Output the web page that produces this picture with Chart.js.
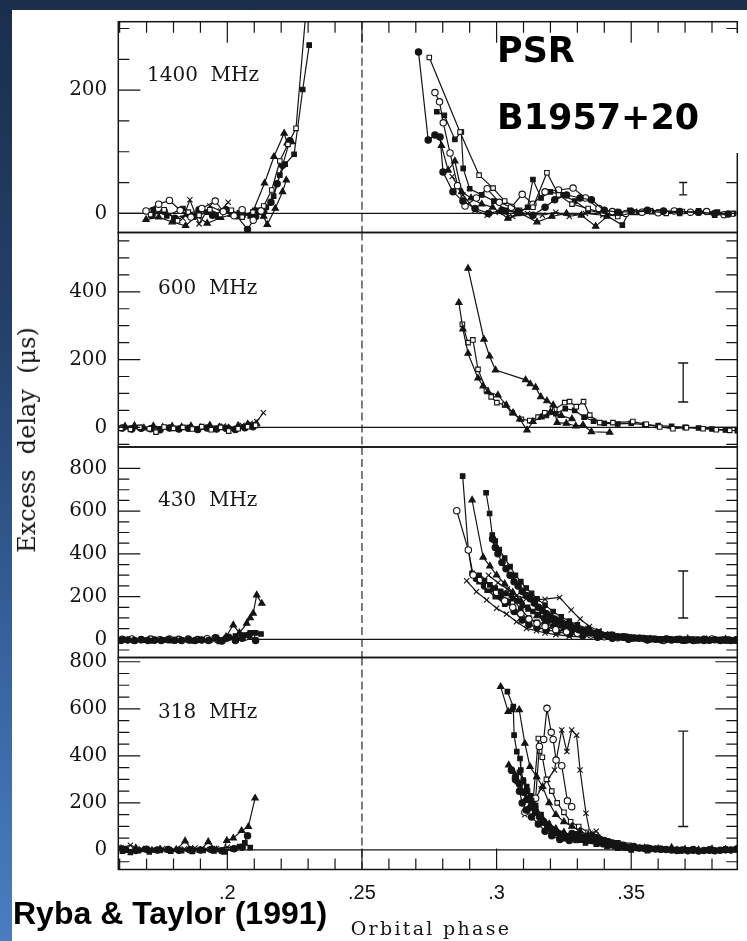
<!DOCTYPE html>
<html><head><meta charset="utf-8">
<script src="https://cdn.jsdelivr.net/npm/chart.js@4/dist/chart.umd.min.js"></script>
<style>
html,body{margin:0;padding:0;}
body{width:747px;height:941px;position:relative;overflow:hidden;
 background:linear-gradient(to bottom,#1b2e4c 0%,#24406a 35%,#3a68a6 75%,#4a7dc0 100%);}
#sheet{position:absolute;left:12px;top:10px;right:0;bottom:0;background:#fff;}
canvas{position:absolute;left:0;}
.t{position:absolute;white-space:pre;color:#161616;z-index:5;}
.lab{font-family:"DejaVu Serif";font-size:20px;line-height:20px;}
.big{font-family:"DejaVu Sans";font-weight:bold;font-size:35px;line-height:35px;color:#000;}
#cite{font-family:"Liberation Sans";font-weight:bold;font-size:32px;line-height:32px;color:#000;left:13px;top:897px;}
#ylab{font-family:"DejaVu Serif";font-size:24px;line-height:24px;left:27px;top:440px;transform:translate(-50%,-50%) rotate(-90deg);}
#xlab{font-family:"DejaVu Serif";font-size:19px;line-height:19px;letter-spacing:2.3px;left:431px;top:928px;transform:translate(-50%,-50%);}
#mask{position:absolute;left:640px;top:33px;width:107px;height:120px;background:#fff;z-index:4;}
</style></head><body>
<div id="sheet"></div>
<canvas id="c0"></canvas><canvas id="c1"></canvas><canvas id="c2"></canvas><canvas id="c3"></canvas>
<div id="mask"></div>
<div class="t lab" style="left:147px;top:64px">1400  MHz</div>
<div class="t lab" style="left:158px;top:277px">600  MHz</div>
<div class="t lab" style="left:158px;top:489px">430  MHz</div>
<div class="t lab" style="left:158px;top:701px">318  MHz</div>
<div class="t big" style="left:497px;top:33px">PSR</div>
<div class="t big" style="left:497px;top:100px">B1957+20</div>
<div class="t" id="cite">Ryba &amp; Taylor (1991)</div>
<div class="t" id="ylab">Excess  delay  (μs)</div>
<div class="t" id="xlab">Orbital phase</div>
<script>
// ---------------- DATA ----------------
const panelNames = ['1400 MHz', '600 MHz', '430 MHz', '318 MHz'];
const phaseMin = 0.1595, phaseMax = 0.3894;
const eclipsePhase = 0.25;
const xTickValues = [0.2, 0.25, 0.3, 0.35];
const xTickLabels = ['.2', '.25', '.3', '.35'];
const xMinorTicks = [0.16,0.17,0.18,0.19,0.2,0.21,0.22,0.23,0.24,0.25,0.26,0.27,0.28,0.29,0.3,0.31,0.32,0.33,0.34,0.35,0.36,0.37,0.38];
const yMinVals = [-31, -58, -85, -83];
const yMaxVals = [311, 575, 900, 818];
const yLabelValues = [[0,200],[0,200,400],[0,200,400,600,800],[0,200,400,600,800]];
const yLabelTexts = [['0','200'],['0','200','400'],['0','200','400','600','800'],['0','200','400','600','800']];
const yMinorTicks = [
 [0,50,100,150,200,250,300],
 [-50,0,50,100,150,200,250,300,350,400,450,500,550],
 [-50,0,50,100,150,200,250,300,350,400,450,500,550,600,650,700,750,800],
 [-50,0,50,100,150,200,250,300,350,400,450,500,550,600,650,700,750,800]
];
const errPhase = 0.3693;
const errLow = [30, 75, 100, 100];
const errHigh = [50, 190, 320, 505];

// 1400 MHz
const f1400_in_ring = [[0.1698,4],[0.1745,15],[0.1785,21],[0.1825,5],[0.1865,-6],[0.1905,8],[0.1955,20],[0.1985,3],[0.2025,-4],[0.2055,6],[0.2096,-11],[0.2125,4]];
const f1400_in_sqo = [[0.1715,-2],[0.1765,6],[0.1815,-12],[0.1855,2],[0.1895,-3],[0.1935,6],[0.1975,-2],[0.2015,5],[0.2055,-6],[0.2095,2],[0.2135,12],[0.2165,38],[0.2195,85],[0.2225,112],[0.2255,138],[0.229,318]];
const f1400_in_sq = [[0.1725,6],[0.1775,-4],[0.1835,8],[0.1875,-6],[0.1925,2],[0.1965,-5],[0.2005,4],[0.2045,1],[0.2085,-4],[0.2115,5],[0.2145,10],[0.2172,28],[0.2195,62],[0.2215,80],[0.2248,96],[0.228,201],[0.2304,273]];
const f1400_in_tri = [[0.1698,-10],[0.1745,-6],[0.1795,-14],[0.1845,-20],[0.1885,-4],[0.1925,-16],[0.1975,-7],[0.2015,-2],[0.2055,-3],[0.2095,3],[0.2138,49],[0.2173,92],[0.2211,130],[0.2222,114],[0.2239,116]];
const f1400_in_tri2 = [[0.2105,4],[0.2135,-5],[0.2148,-18],[0.2178,8],[0.2205,35],[0.2219,54]];
const f1400_in_dot = [[0.172,-3],[0.1765,4],[0.1805,-8],[0.1855,-1],[0.1895,6],[0.1945,-3],[0.1995,6],[0.2035,-4],[0.2075,-26],[0.2105,-5],[0.2135,3],[0.2162,18],[0.2185,48],[0.2205,78],[0.2232,118]];
const f1400_in_x = [[0.1835,-8],[0.1861,22],[0.1895,-17],[0.1935,12],[0.1975,4],[0.2003,18]];
const f1400_eg_dot = [[0.271,262],[0.2746,119],[0.2771,127],[0.279,124],[0.2801,67],[0.2838,35],[0.2875,20],[0.292,8],[0.297,0],[0.302,5],[0.308,3],[0.3135,-3],[0.318,10],[0.3216,22],[0.326,30],[0.331,25],[0.3352,22],[0.34,5],[0.345,2],[0.35,3],[0.356,5],[0.362,4],[0.368,3],[0.375,2],[0.381,0],[0.386,-1]];
const f1400_eg_sqo = [[0.275,253],[0.2864,132],[0.2935,62],[0.2987,41],[0.303,20],[0.3085,5],[0.3135,10],[0.3187,66],[0.323,30],[0.328,15],[0.334,8],[0.3395,0],[0.345,-5],[0.351,2],[0.357,4],[0.363,0],[0.369,3],[0.375,1],[0.381,-3],[0.3875,-1]];
const f1400_eg_ring = [[0.2771,196],[0.2788,181],[0.2802,147],[0.2827,98],[0.2855,45],[0.2883,12],[0.2925,25],[0.2965,40],[0.301,18],[0.3055,10],[0.3095,31],[0.3135,15],[0.318,35],[0.323,38],[0.3284,41],[0.333,25],[0.338,8],[0.343,3],[0.348,0],[0.354,2],[0.36,1],[0.366,4],[0.372,2],[0.378,3],[0.3845,-2]];
const f1400_eg_sq = [[0.2778,165],[0.2806,159],[0.2845,120],[0.2869,132],[0.2876,73],[0.29,40],[0.2945,30],[0.299,20],[0.3035,5],[0.308,0],[0.3115,10],[0.3135,55],[0.3165,25],[0.32,35],[0.3245,30],[0.329,20],[0.334,5],[0.3395,0],[0.3467,-19],[0.3495,5],[0.355,3],[0.362,2],[0.368,0],[0.375,4],[0.382,2],[0.388,0]];
const f1400_eg_tri = [[0.2795,110],[0.282,70],[0.2845,85],[0.287,35],[0.2905,25],[0.2945,15],[0.2985,10],[0.3042,-8],[0.309,0],[0.315,-14],[0.3205,-5],[0.326,0],[0.3315,-3],[0.3368,-21],[0.341,-5],[0.346,0],[0.352,1],[0.358,2]];
const f1400_eg_x = [[0.2835,60],[0.2875,30],[0.292,5],[0.2965,-3],[0.301,2],[0.306,-5],[0.3115,0],[0.317,-3],[0.322,2],[0.327,-5],[0.333,0],[0.3395,-3],[0.345,0]];

// 600 MHz
const f600_in_sqo = [[0.1605,-3],[0.164,-6],[0.1675,0],[0.171,-4],[0.1735,-14],[0.1765,1],[0.18,-3],[0.1835,0],[0.187,-5],[0.1905,2],[0.194,-7],[0.1975,0],[0.2005,-11],[0.204,-4],[0.2075,2],[0.2105,6]];
const f600_in_tri = [[0.162,3],[0.1655,5],[0.169,-2],[0.1725,4],[0.176,0],[0.1795,3],[0.183,1],[0.1865,4],[0.19,-1],[0.1935,6],[0.197,1],[0.2005,-2],[0.204,5],[0.2075,9],[0.2109,10]];
const f600_in_x = [[0.1985,4],[0.202,-3],[0.2055,6],[0.2085,12],[0.2109,17],[0.2134,43]];
const f600_in_dot = [[0.161,-2],[0.1645,-5],[0.168,-3],[0.1715,-4],[0.175,-7],[0.1785,-2],[0.182,-5],[0.1855,-3],[0.189,-6],[0.1925,-2],[0.196,-5],[0.1995,-3],[0.203,-6],[0.2065,-1],[0.2095,2]];
const f600_eg_triA = [[0.2894,469],[0.2953,260],[0.2974,210],[0.2996,169],[0.3108,140],[0.3125,128],[0.3145,118],[0.3164,90],[0.3187,78],[0.321,66],[0.3225,14],[0.3259,12],[0.3294,4],[0.3321,7],[0.3352,-13],[0.342,-15]];
const f600_eg_triB = [[0.286,368],[0.2875,290],[0.2894,218],[0.2931,145],[0.295,122],[0.2968,105],[0.3005,95],[0.3036,66],[0.3061,43],[0.3086,24],[0.3113,-8],[0.3135,17],[0.3165,30],[0.32,45],[0.324,35],[0.328,25]];
const f600_eg_sqo = [[0.2873,304],[0.2894,250],[0.2912,258],[0.2931,171],[0.2962,110],[0.298,90],[0.3001,73],[0.303,66],[0.3058,43],[0.3092,24],[0.3123,20],[0.3154,30],[0.3179,43],[0.3216,53],[0.3253,73],[0.3271,76],[0.3296,61],[0.3323,76],[0.3346,36],[0.3383,14],[0.3432,14],[0.3506,17],[0.3556,9],[0.3606,1],[0.3655,-4],[0.3705,-1],[0.3767,-4],[0.3816,-7],[0.3866,-9]];
const f600_eg_sq = [[0.3185,35],[0.322,40],[0.3255,55],[0.329,50],[0.3325,30],[0.336,18],[0.34,12],[0.345,10],[0.35,12],[0.355,8],[0.36,5],[0.365,3],[0.37,0],[0.375,-2],[0.38,-5],[0.385,-8],[0.3894,-10]];

// 430 MHz
const f430_in_dot = [[0.1605,-5],[0.163,-3],[0.1655,-6],[0.168,-2],[0.1705,-5],[0.173,-3],[0.1755,-6],[0.178,-2],[0.1805,-4],[0.183,-5],[0.1855,-2],[0.188,-6],[0.1905,-3],[0.193,-5],[0.1955,8],[0.198,-8],[0.2005,10],[0.203,-5],[0.2055,5],[0.208,20],[0.2105,-5]];
const f430_in_sq = [[0.162,-2],[0.1655,-8],[0.169,-4],[0.1725,-7],[0.176,-3],[0.1795,-6],[0.183,-3],[0.1865,-7],[0.19,-2],[0.1935,-4],[0.197,-10],[0.2,5],[0.203,15],[0.206,20],[0.2085,30],[0.2105,30],[0.2125,25]];
const f430_in_tri = [[0.1965,3],[0.1995,12],[0.2022,67],[0.2045,30],[0.2072,75],[0.2085,100],[0.2096,122],[0.2109,207],[0.2128,168]];
const f430_in_ring = [[0.161,0],[0.1645,2],[0.168,-1],[0.1715,1],[0.175,-2],[0.1785,1],[0.182,0],[0.1855,2],[0.189,-1],[0.1925,3],[0.196,0],[0.1995,4],[0.203,2],[0.2065,10],[0.209,18]];
const f430_eg_ring = [[0.2852,602],[0.2895,418],[0.2913,301],[0.294,280],[0.297,250],[0.3,220],[0.303,180],[0.306,150],[0.309,120],[0.312,95],[0.315,75],[0.318,60],[0.322,45],[0.326,35],[0.33,28],[0.335,20],[0.34,12],[0.345,8],[0.35,5],[0.356,2],[0.362,-5],[0.368,0],[0.374,-3],[0.38,2],[0.386,-2]];
const f430_eg_sq = [[0.2874,764],[0.2895,418],[0.2909,309],[0.2935,270],[0.2965,230],[0.2995,200],[0.303,165],[0.306,190],[0.309,140],[0.312,100],[0.315,80],[0.3185,70],[0.322,60],[0.326,45],[0.3305,40],[0.334,35],[0.338,25],[0.342,22],[0.347,15],[0.352,8],[0.358,5],[0.364,2],[0.37,0],[0.376,-4],[0.382,-2],[0.3885,-6]];
const f430_eg_tri = [[0.2909,652],[0.295,384],[0.2975,343],[0.3,300],[0.303,260],[0.306,220],[0.309,180],[0.312,140],[0.315,110],[0.318,85],[0.321,65],[0.325,50],[0.329,38],[0.334,25],[0.339,15],[0.344,10],[0.35,5],[0.357,0],[0.364,-3],[0.371,2],[0.378,-2],[0.385,0]];
const f430_eg_sq2 = [[0.2961,686],[0.2974,589],[0.2984,488],[0.2995,460],[0.301,420],[0.303,380],[0.305,340],[0.307,300],[0.309,270],[0.311,240],[0.313,215],[0.315,190],[0.318,160],[0.321,130],[0.324,105],[0.327,85],[0.33,68],[0.334,50],[0.338,35],[0.343,22],[0.348,14],[0.354,8],[0.36,3],[0.366,0],[0.372,-2],[0.379,-5],[0.386,-8]];
const f430_eg_x = [[0.2889,274],[0.2925,223],[0.2963,184],[0.3,145],[0.3037,118],[0.3074,82],[0.3111,51],[0.3148,40],[0.318,30],[0.322,22],[0.327,15],[0.332,10]];
const f430_eg_dot = [[0.2925,285],[0.2955,250],[0.298,235],[0.3015,200],[0.304,175],[0.3065,130],[0.3095,90],[0.312,70],[0.315,55],[0.3185,45],[0.3225,35],[0.327,25],[0.332,18],[0.3375,10],[0.343,5],[0.349,0],[0.356,-3],[0.363,2],[0.37,-4],[0.377,0],[0.384,-3],[0.389,-2]];
const f430_eg_x2 = [[0.297,300],[0.3005,265],[0.304,235],[0.3075,205],[0.311,190],[0.3145,186],[0.318,188],[0.3234,196],[0.3277,137],[0.331,95],[0.3345,60],[0.338,40],[0.342,25]];
const f430_eg_dot2 = [[0.2985,470],[0.2995,430],[0.3005,400],[0.302,360],[0.3035,330],[0.305,300],[0.3065,270],[0.308,250],[0.3095,225],[0.311,205],[0.3125,190],[0.314,170],[0.3155,150],[0.317,135],[0.3185,120],[0.32,105],[0.3215,95],[0.323,85],[0.3245,75],[0.326,68],[0.3275,60],[0.329,52],[0.3305,45],[0.332,40],[0.3335,35],[0.335,30],[0.337,25],[0.339,20],[0.341,18],[0.343,15],[0.345,12],[0.347,10],[0.349,8],[0.351,6],[0.353,5],[0.355,3],[0.357,2],[0.359,0],[0.361,-2],[0.363,0],[0.365,-3],[0.367,-1],[0.369,-4],[0.371,-2],[0.373,-5],[0.375,-3],[0.377,-6],[0.379,-4],[0.381,-2],[0.383,-5],[0.385,-3],[0.387,-6],[0.389,-4]];
const f430_eg_sq3 = [[0.2935,300],[0.2955,275],[0.2975,255],[0.2995,240],[0.3015,225],[0.3035,215],[0.3055,205],[0.3075,180],[0.3095,160],[0.3115,150],[0.3135,130],[0.3155,115],[0.3175,100],[0.3195,90],[0.3215,80],[0.3235,70],[0.3255,62],[0.3275,55],[0.3295,48],[0.3315,40],[0.3335,34],[0.3355,28],[0.3375,22],[0.34,18],[0.3425,14],[0.345,10],[0.3475,7],[0.35,5],[0.3525,3],[0.355,1],[0.3575,0],[0.36,-2],[0.3625,1],[0.365,-3],[0.3675,0],[0.37,-2],[0.3725,1],[0.375,-3],[0.3775,0],[0.38,-4],[0.3825,-1],[0.385,-3],[0.3875,-5]];

// 318 MHz
const f318_in_tri = [[0.1605,5],[0.163,-3],[0.166,8],[0.169,0],[0.172,-2],[0.175,3],[0.178,-1],[0.181,2],[0.1843,38],[0.187,0],[0.19,-2],[0.1929,35],[0.196,0],[0.1985,-5],[0.1998,40],[0.2022,50],[0.2053,82],[0.2078,99],[0.2103,220]];
const f318_in_sq = [[0.161,-5],[0.164,-10],[0.167,-3],[0.171,-8],[0.175,-2],[0.179,-5],[0.183,-3],[0.187,-6],[0.191,-2],[0.195,-4],[0.199,-8],[0.202,5],[0.2045,15],[0.2065,30],[0.2085,10]];
const f318_in_x = [[0.1605,10],[0.164,20],[0.168,5],[0.172,0],[0.176,6],[0.18,2],[0.184,4],[0.188,8],[0.192,3],[0.196,6],[0.2,12],[0.203,8]];
const f318_in_dot = [[0.162,2],[0.166,-2],[0.17,3],[0.174,0],[0.178,2],[0.182,-1],[0.186,1],[0.19,0],[0.194,2],[0.198,-3],[0.2025,5],[0.2055,12],[0.2075,60]];
const f318_eg_triA = [[0.3015,694],[0.3043,588],[0.3056,596],[0.3084,596],[0.3105,453],[0.3124,354],[0.3149,311],[0.3171,269],[0.3195,200],[0.322,150],[0.325,120],[0.328,100],[0.331,80],[0.334,65],[0.338,45],[0.342,30],[0.346,20],[0.35,12],[0.355,8],[0.36,5],[0.365,10],[0.37,3],[0.375,0],[0.38,4],[0.385,2],[0.389,3]];
const f318_eg_sq = [[0.304,673],[0.3062,609],[0.3065,488],[0.3075,418],[0.3087,389],[0.309,340],[0.3099,297],[0.3112,269],[0.3125,230],[0.3145,190],[0.3165,150],[0.319,110],[0.3215,85],[0.324,65],[0.3265,50],[0.3295,40],[0.333,30],[0.337,25],[0.341,15],[0.345,8],[0.35,0],[0.356,-3],[0.362,2],[0.368,-4],[0.374,0],[0.38,-3],[0.386,-1]];
const f318_eg_triB = [[0.3045,361],[0.3062,333],[0.308,290],[0.3095,250],[0.311,220],[0.3125,190],[0.3145,160],[0.317,135],[0.3195,110],[0.322,90],[0.325,75],[0.3285,60],[0.332,50],[0.336,40],[0.34,30],[0.344,20],[0.348,12],[0.353,5]];
const f318_eg_dot = [[0.307,300],[0.3085,250],[0.3095,200],[0.311,170],[0.313,140],[0.3155,110],[0.318,80],[0.3205,60],[0.3235,45],[0.327,40],[0.3305,60],[0.3335,55],[0.336,45],[0.339,30],[0.343,25],[0.347,20],[0.351,15],[0.356,8],[0.361,3],[0.367,0],[0.373,2],[0.379,0],[0.385,1]];
const f318_eg_ring = [[0.3105,160],[0.313,180],[0.3145,220],[0.3159,440],[0.3175,470],[0.3187,602],[0.3203,500],[0.321,470],[0.3221,382],[0.3242,358],[0.3263,209],[0.3279,184]];
const f318_eg_sqo = [[0.3115,170],[0.3135,200],[0.3155,474],[0.316,420],[0.317,394],[0.3185,300],[0.3205,250],[0.3225,200],[0.325,160],[0.3275,120],[0.3305,100],[0.334,75],[0.3375,55],[0.341,35],[0.345,30],[0.349,20],[0.354,10],[0.359,5],[0.365,2],[0.371,0]];
const f318_eg_x = [[0.3105,150],[0.3135,200],[0.3165,260],[0.319,300],[0.3215,340],[0.3242,510],[0.3261,418],[0.3279,510],[0.3297,488],[0.331,340],[0.3332,156],[0.3347,71],[0.337,80],[0.34,40],[0.344,30],[0.348,15],[0.352,8],[0.356,2]];
const f318_eg_dot2 = [[0.3055,340],[0.307,310],[0.3085,280],[0.31,245],[0.3115,215],[0.313,185],[0.3145,160],[0.316,140],[0.3175,120],[0.319,100],[0.3205,88],[0.322,75],[0.3235,65],[0.325,58],[0.3265,52],[0.328,70],[0.3295,65],[0.331,55],[0.3325,48],[0.334,42],[0.3355,60],[0.337,52],[0.3385,45],[0.34,40],[0.3415,35],[0.343,30],[0.3445,25],[0.346,20],[0.3475,16],[0.349,12],[0.351,10],[0.353,8],[0.355,6],[0.357,5],[0.359,4],[0.361,3],[0.363,2],[0.365,0],[0.367,-2],[0.369,0],[0.371,-3],[0.373,-1],[0.375,-4],[0.377,-2],[0.379,0],[0.381,-3],[0.383,-1],[0.385,2],[0.387,0],[0.389,3]];
const f318_eg_sq2 = [[0.3085,330],[0.31,290],[0.3115,250],[0.313,210],[0.3145,175],[0.316,145],[0.3175,115],[0.319,95],[0.3205,80],[0.322,70],[0.3235,55],[0.325,48],[0.3265,60],[0.328,55],[0.3295,48],[0.331,42],[0.3325,58],[0.334,50],[0.3355,42],[0.337,35],[0.3385,28],[0.34,22],[0.342,18],[0.344,14],[0.346,10],[0.348,8],[0.35,5]];

const panelSeries = [
 [[f1400_in_ring,'circle',false],[f1400_in_sqo,'rect',false],[f1400_in_sq,'rect',true],[f1400_in_tri,'triangle',true],[f1400_in_tri2,'triangle',true],[f1400_in_dot,'circle',true],[f1400_in_x,'crossRot',true],
  [f1400_eg_dot,'circle',true],[f1400_eg_sqo,'rect',false],[f1400_eg_ring,'circle',false],[f1400_eg_sq,'rect',true],[f1400_eg_tri,'triangle',true],[f1400_eg_x,'crossRot',true]],
 [[f600_in_sqo,'rect',false],[f600_in_tri,'triangle',true],[f600_in_x,'crossRot',true],[f600_in_dot,'circle',true],
  [f600_eg_triA,'triangle',true],[f600_eg_triB,'triangle',true],[f600_eg_sqo,'rect',false],[f600_eg_sq,'rect',true]],
 [[f430_in_dot,'circle',true],[f430_in_sq,'rect',true],[f430_in_tri,'triangle',true],[f430_in_ring,'circle',false],
  [f430_eg_dot2,'circle',true],[f430_eg_sq3,'rect',true],
  [f430_eg_ring,'circle',false],[f430_eg_sq,'rect',true],[f430_eg_tri,'triangle',true],[f430_eg_sq2,'rect',true],[f430_eg_x,'crossRot',true],[f430_eg_dot,'circle',true],[f430_eg_x2,'crossRot',true]],
 [[f318_in_tri,'triangle',true],[f318_in_sq,'rect',true],[f318_in_x,'crossRot',true],[f318_in_dot,'circle',true],
  [f318_eg_dot2,'circle',true],[f318_eg_sq2,'rect',true],
  [f318_eg_triA,'triangle',true],[f318_eg_sq,'rect',true],[f318_eg_triB,'triangle',true],[f318_eg_dot,'circle',true],[f318_eg_ring,'circle',false],[f318_eg_sqo,'rect',false],[f318_eg_x,'crossRot',true]]
];

// ---------------- LAYOUT / STYLE ----------------
const INK = '#141414';
const FRAME_L = 118.3, FRAME_R = 737.3, PAGE_W = 747, PAGE_H = 941;
const panelTop = [21.7, 232.5, 447, 657.5];
const panelBottom = [232.5, 447, 657.5, 869.5];
const capRadius = [4, 5, 5, 5];
const MARGIN = 28;

const framePlugin = {
  id: 'frame',
  beforeDatasetsDraw(chart, args, o) {
    const {ctx, chartArea: a} = chart;
    const x = chart.scales.x, y = chart.scales.y;
    ctx.save();
    ctx.strokeStyle = INK;
    ctx.lineWidth = 1.2;
    const y0 = y.getPixelForValue(0);
    ctx.beginPath(); ctx.moveTo(a.left, y0); ctx.lineTo(a.right, y0); ctx.stroke();
    const xd = x.getPixelForValue(eclipsePhase);
    ctx.lineWidth = 1.1;
    ctx.setLineDash([8, 4]);
    ctx.beginPath(); ctx.moveTo(xd, a.top); ctx.lineTo(xd, a.bottom); ctx.stroke();
    ctx.restore();
  },
  afterDatasetsDraw(chart, args, o) {
    const {ctx, chartArea: a} = chart;
    const x = chart.scales.x, y = chart.scales.y;
    ctx.save();
    ctx.strokeStyle = INK;
    ctx.lineWidth = 1.5;
    ctx.strokeRect(a.left, a.top, a.right - a.left, a.bottom - a.top);
    ctx.lineWidth = 1.2;
    ctx.beginPath();
    o.yTicks.forEach(v => {
      if (v < y.min || v > y.max) return;
      const py = y.getPixelForValue(v);
      const len = o.yMajor.includes(v) ? 22 : 11;
      ctx.moveTo(a.left, py); ctx.lineTo(a.left + len, py);
      ctx.moveTo(a.right, py); ctx.lineTo(a.right - len, py);
    });
    xMinorTicks.forEach(v => {
      const px = x.getPixelForValue(v);
      const len = xTickValues.includes(v) ? 21 : 11;
      if (o.top) { ctx.moveTo(px, a.top); ctx.lineTo(px, a.top + len); }
      if (o.bottom) { ctx.moveTo(px, a.bottom); ctx.lineTo(px, a.bottom - len); }
    });
    ctx.stroke();
    ctx.restore();
  }
};

function makeDataset(pts, style, filled) {
  return {
    data: pts.map(p => ({x: p[0], y: p[1]})),
    showLine: true,
    borderColor: INK,
    borderWidth: 1.2,
    pointStyle: style,
    pointRadius: style === 'crossRot' ? 3.7 : (style === 'triangle' ? 3.7 : 3.2),
    pointBorderColor: INK,
    pointBackgroundColor: filled ? INK : '#ffffff',
    pointBorderWidth: 1.1,
    tension: 0
  };
}

for (let k = 0; k < 4; k++) {
  const last = k === 3;
  const T = panelTop[k], B = panelBottom[k];
  const cTop = Math.floor(T) - MARGIN;
  const cH = last ? PAGE_H - cTop : Math.ceil(B + MARGIN) - cTop;
  const cv = document.getElementById('c' + k);
  cv.width = PAGE_W; cv.height = cH;
  cv.style.top = cTop + 'px'; cv.style.width = PAGE_W + 'px'; cv.style.height = cH + 'px';
  cv.style.zIndex = 1 + k;

  const datasets = panelSeries[k].map(s => makeDataset(s[0], s[1], s[2]));
  datasets.push({
    data: [{x: errPhase, y: errLow[k]}, {x: errPhase, y: errHigh[k]}],
    showLine: true, borderColor: INK, borderWidth: 1.3,
    pointStyle: 'line', pointRadius: capRadius[k], pointBorderColor: INK, pointBorderWidth: 1.4
  });

  new Chart(cv, {
    type: 'scatter',
    data: {datasets},
    options: {
      responsive: false, animation: false, devicePixelRatio: 1,
      events: [],
      layout: {autoPadding: false, padding: {left: 0, right: PAGE_W - FRAME_R, top: T - cTop, bottom: last ? 0 : (cTop + cH) - B}},
      plugins: {
        legend: {display: false}, tooltip: {enabled: false},
        frame: {yTicks: yMinorTicks[k], yMajor: yLabelValues[k], top: k === 0, bottom: last}
      },
      scales: {
        x: {
          type: 'linear', min: phaseMin, max: phaseMax, display: last,
          grid: {display: false, drawTicks: false}, border: {display: false},
          afterBuildTicks: s => { s.ticks = xTickValues.map(v => ({value: v})); },
          afterFit: s => { s.height = last ? PAGE_H - B : 0; },
          ticks: {autoSkip: false, maxRotation: 0, padding: 12, color: INK,
            font: {family: 'Liberation Sans', size: 20},
            callback: (v, i) => xTickLabels[i]}
        },
        y: {
          type: 'linear', min: yMinVals[k], max: yMaxVals[k],
          grid: {display: false, drawTicks: false}, border: {display: false},
          afterBuildTicks: s => { s.ticks = yLabelValues[k].map(v => ({value: v})); },
          afterFit: s => { s.width = FRAME_L; },
          ticks: {autoSkip: false, padding: 11, color: INK,
            font: {family: 'DejaVu Serif', size: 20},
            callback: (v, i) => yLabelTexts[k][i]}
        }
      }
    },
    plugins: [framePlugin]
  });
}
</script>
</body></html>
